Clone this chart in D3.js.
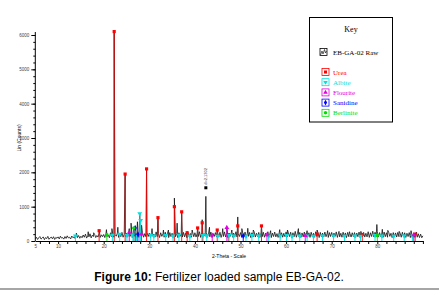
<!DOCTYPE html>
<html>
<head>
<meta charset="utf-8">
<script src="https://cdn.jsdelivr.net/npm/d3@7"></script>
<style>
  body { margin: 0; background: #fff; }
  svg { display: block; }
</style>
</head>
<body>
<div id="chart"></div>
<script>
// raw pattern: background counts every 0.25 deg from 5 to 90
var rawStart = 5, rawStep = 0.25;
var rawCounts = [
  60, 110, 45, 95, 130, 55, 85, 120, 40, 100, 70, 135, 50, 90, 115, 65, 125, 45, 105, 80,
  120, 60, 140, 85, 100, 55, 130, 75, 150, 90, 110, 60, 145, 95, 120, 70, 190, 100, 160, 80,
  140, 95, 175, 110, 200, 85, 150, 120, 210, 90, 170, 130, 195, 100, 160, 115, 230, 105, 180, 125,
  190, 100, 220, 130, 170, 95, 240, 120, 200, 110, 185, 140, 230, 105, 210, 125, 250, 110, 195, 135,
  220, 115, 255, 130, 200, 100, 245, 140, 210, 120, 260, 105, 225, 135, 240, 110, 215, 125, 250, 130,
  230, 105, 250, 140, 205, 115, 265, 125, 220, 100, 240, 135, 210, 110, 255, 120, 230, 100, 245, 130,
  225, 110, 260, 125, 215, 100, 240, 135, 205, 115, 250, 120, 230, 95, 245, 130, 220, 110, 260, 125,
  240, 115, 225, 130, 270, 105, 235, 120, 215, 140, 250, 110, 230, 125, 260, 100, 220, 135, 245, 115,
  235, 120, 255, 105, 220, 130, 265, 115, 240, 100, 225, 135, 250, 110, 230, 125, 270, 115, 215, 130,
  245, 105, 230, 125, 260, 110, 220, 135, 250, 100, 240, 120, 265, 115, 225, 130, 250, 105, 235, 125,
  255, 110, 225, 140, 270, 115, 240, 100, 230, 130, 260, 120, 215, 105, 250, 135, 240, 110, 225, 125,
  265, 115, 235, 130, 255, 100, 240, 125, 280, 110, 225, 135, 250, 105, 235, 120, 260, 115, 230, 130,
  240, 105, 255, 125, 225, 110, 270, 130, 235, 100, 250, 120, 230, 115, 260, 125, 220, 105, 245, 130,
  250, 115, 230, 135, 265, 105, 240, 120, 225, 110, 255, 130, 235, 100, 250, 125, 220, 115, 240, 130,
  245, 110, 230, 125, 260, 100, 235, 135, 250, 115, 225, 120, 270, 105, 240, 130, 285, 120, 255, 140,
  270, 115, 245, 130, 230, 105, 260, 125, 240, 110, 255, 135, 225, 100, 245, 120, 235, 115, 250, 125,
  230, 110, 255, 120, 240, 105, 225, 130, 245, 100, 230, 115, 220, 105, 240, 110, 210, 100, 200, 95,
  150
];

// raw pattern peaks (2-theta, counts)
var peakTheta  = [14.0, 16.6, 17.8, 19.0, 20.6, 21.8, 22.3, 23.1, 24.7, 25.6, 26.0, 26.6, 27.4, 27.9, 28.3, 29.4, 30.6, 31.9, 33.1, 34.2, 35.5, 36.1, 37.1, 38.3, 39.4, 40.6, 41.6, 42.4, 43.2, 44.9, 46.1, 47.0, 48.1, 49.4, 50.3, 51.6, 52.8, 54.6, 56.6, 58.6, 60.3, 62.7, 64.6, 66.8, 69.1, 71.6, 73.9, 76.4, 79.9, 81.1, 82.3, 84.8, 87.4, 88.6];
var peakCounts = [230, 270, 240, 310, 330, 360, 6100, 400, 1950, 360, 520, 400, 560, 800, 460, 2100, 360, 700, 320, 320, 1250, 520, 850, 280, 320, 400, 620, 1300, 400, 340, 360, 400, 320, 700, 360, 370, 320, 450, 300, 330, 320, 360, 300, 320, 300, 280, 270, 280, 480, 340, 310, 280, 300, 260];

// reference phases (stick positions and heights)
var ureaTheta  = [19.0, 22.3, 24.7, 29.4, 31.9, 35.5, 37.1, 38.3, 40.6, 41.6, 44.9, 47.3, 49.4, 54.6, 66.8, 76.7, 88.3];
var ureaCounts = [300, 6100, 1950, 2100, 680, 1000, 850, 240, 380, 530, 320, 180, 440, 440, 200, 190, 200];
var albiteTheta  = [13.8, 21.9, 23.5, 25.1, 26.4, 27.2, 27.9, 28.1, 30.3, 31.0, 33.6, 35.2, 36.5, 38.9, 41.8, 42.6, 45.0, 47.5, 48.5, 51.2, 52.5, 54.0, 56.2, 58.7, 60.1, 61.3, 63.0, 64.6, 66.0, 68.0, 70.4, 72.8, 75.1, 76.3, 79.5, 81.0, 83.6, 85.9, 87.7];
var albiteCounts = [150, 170, 200, 160, 180, 150, 800, 600, 170, 150, 160, 150, 170, 140, 160, 150, 140, 160, 150, 140, 160, 150, 140, 150, 160, 140, 150, 150, 140, 150, 150, 140, 150, 140, 160, 150, 140, 150, 140];
var flouriteTheta  = [25.6, 28.3, 43.8, 47.0, 55.8, 64.2, 88.0];
var flouriteCounts = [250, 200, 170, 390, 180, 160, 180];
var sanidineTheta  = [26.9, 27.5, 50.6];
var sanidineCounts = [380, 200, 150];
var berliniteTheta  = [20.7, 26.6, 80.0];
var berliniteCounts = [180, 380, 160];

var xTicks = [5, 10, 20, 30, 40, 50, 60, 70, 80];
var yTicks = [0, 1000, 2000, 3000, 4000, 5000, 6000];

var phases = [
  { name: "Urea",      color: "#ff0000", symbol: d3.symbolSquare,   theta: ureaTheta,      counts: ureaCounts },
  { name: "Albite",    color: "#00e0e0", symbol: d3.symbolTriangle, theta: albiteTheta,    counts: albiteCounts, flip: true },
  { name: "Flourite",  color: "#e000e0", symbol: d3.symbolTriangle, theta: flouriteTheta,  counts: flouriteCounts },
  { name: "Sanidine",  color: "#0000ff", symbol: d3.symbolDiamond,  theta: sanidineTheta,  counts: sanidineCounts },
  { name: "Berlinite", color: "#00dd00", symbol: d3.symbolCircle,   theta: berliniteTheta, counts: berliniteCounts }
];

function init() {
  var w = 439, h = 292;

  var svg = d3.select("#chart").append("svg")
      .attr("width", w)
      .attr("height", h)
      .style("font-family", "'Liberation Sans', Arial, sans-serif");

  var x = d3.scaleLinear().domain([5, 90]).range([35.3, 422.9]);
  var y = d3.scaleLinear().domain([0, 6000]).range([241, 35]);

  // raw line: background points merged with peak points
  var pts = rawCounts.map(function(c, i) { return [rawStart + i * rawStep, c]; });
  peakTheta.forEach(function(t, i) { pts.push([t, peakCounts[i]]); });
  pts.sort(function(a, b) { return a[0] - b[0]; });

  var line = d3.line()
      .x(function(d) { return x(d[0]); })
      .y(function(d) { return y(d[1]); });

  // axes
  var xAxis = d3.axisBottom(x).tickValues(xTicks).tickSize(0).tickFormat(d3.format("d"));
  var gx = svg.append("g")
      .attr("transform", "translate(0," + y(0) + ")")
      .call(xAxis);
  gx.select(".domain").attr("stroke", "#000").attr("stroke-width", 1);
  gx.selectAll("text").attr("font-size", 4.5).attr("fill", "#444").attr("dy", "0.9em").attr("y", 3);

  var xMinor = d3.axisBottom(x).tickValues(d3.range(6, 91, 2)).tickSize(3).tickFormat("");
  svg.append("g")
      .attr("transform", "translate(0," + y(0) + ")")
      .call(xMinor)
      .call(function(g) { g.select(".domain").remove(); });

  var yAxis = d3.axisLeft(y).tickValues(yTicks).tickSize(4).tickPadding(2).tickFormat(d3.format("d"));
  var gy = svg.append("g")
      .attr("transform", "translate(" + x(5) + ",0)")
      .call(yAxis);
  gy.select(".domain").attr("d", "M0," + y(0) + "V" + (y(6000) - 3));
  gy.selectAll("text").attr("font-size", 4.5).attr("fill", "#444");

  var yMinor = d3.axisLeft(y).tickValues(d3.range(0, 6001, 200)).tickSize(2).tickFormat("");
  svg.append("g")
      .attr("transform", "translate(" + x(5) + ",0)")
      .call(yMinor)
      .call(function(g) { g.select(".domain").remove(); });

  // raw pattern
  svg.append("path")
      .datum(pts)
      .attr("fill", "none")
      .attr("stroke", "#111")
      .attr("stroke-width", 0.8)
      .attr("d", line);

  // phase sticks and markers
  phases.forEach(function(p) {
    var g = svg.append("g");
    var data = p.theta.map(function(t, i) { return [t, p.counts[i]]; });
    g.selectAll("line")
      .data(data)
      .enter()
      .append("line")
      .attr("x1", function(d) { return x(d[0]); })
      .attr("x2", function(d) { return x(d[0]); })
      .attr("y1", y(0))
      .attr("y2", function(d) { return y(d[1]); })
      .attr("stroke", p.color)
      .attr("stroke-width", 0.9);
    g.selectAll("path")
      .data(data)
      .enter()
      .append("path")
      .attr("d", d3.symbol().type(p.symbol).size(10))
      .attr("transform", function(d) {
        return "translate(" + x(d[0]) + "," + y(d[1]) + ")" + (p.flip ? " rotate(180)" : "");
      })
      .attr("fill", p.color);
  });

  // labelled peak
  var lx = x(42.4), ly = y(1550);
  svg.append("rect")
      .attr("x", lx - 1.5).attr("y", ly - 1.5)
      .attr("width", 3).attr("height", 3)
      .attr("fill", "#000");
  svg.append("text")
      .attr("transform", "translate(" + (lx + 1) + "," + (ly - 3) + ") rotate(-90)")
      .attr("font-size", 4)
      .attr("fill", "#335")
      .text("d=2.1302");

  // axis titles
  svg.append("text")
      .attr("x", 229).attr("y", 258)
      .attr("text-anchor", "middle")
      .attr("font-size", 5)
      .text("2-Theta - Scale");
  svg.append("text")
      .attr("transform", "translate(21,138) rotate(-90)")
      .attr("text-anchor", "middle")
      .attr("font-size", 5)
      .text("Lin (Counts)");

  // legend
  var key = svg.append("g").style("font-family", "'Liberation Serif', 'Times New Roman', serif");
  key.append("rect")
      .attr("x", 309.5).attr("y", 17.5)
      .attr("width", 83).attr("height", 104.5)
      .attr("fill", "#fff")
      .attr("stroke", "#000")
      .attr("stroke-width", 1);
  key.append("text")
      .attr("x", 351).attr("y", 32)
      .attr("text-anchor", "middle")
      .attr("font-size", 8)
      .text("Key");
  key.append("rect")
      .attr("x", 320).attr("y", 48.5)
      .attr("width", 7).attr("height", 7)
      .attr("fill", "none").attr("stroke", "#000").attr("stroke-width", 0.8);
  key.append("path")
      .attr("d", "M320.5,55 L322,51 L323,54 L324.5,49.5 L325.5,53 L326.5,51")
      .attr("fill", "none").attr("stroke", "#000").attr("stroke-width", 0.6);
  key.append("text")
      .attr("x", 333).attr("y", 55)
      .attr("font-size", 7)
      .text("EB-GA-02 Raw");

  var items = key.selectAll("g.item")
      .data(phases)
      .enter()
      .append("g")
      .attr("class", "item")
      .attr("transform", function(d, i) { return "translate(0," + (72 + i * 10.2) + ")"; });
  items.append("rect")
      .attr("x", 322).attr("y", -3.5)
      .attr("width", 7).attr("height", 7)
      .attr("fill", "#fff")
      .attr("stroke", function(d) { return d.color; })
      .attr("stroke-width", 0.8);
  items.append("path")
      .attr("d", function(d) { return d3.symbol().type(d.symbol).size(9)(); })
      .attr("transform", function(d) { return "translate(325.5,0)" + (d.flip ? " rotate(180)" : ""); })
      .attr("fill", function(d) { return d.color; });
  items.append("text")
      .attr("x", 333).attr("y", 2.5)
      .attr("font-size", 7)
      .attr("fill", function(d) { return d.color; })
      .text(function(d) { return d.name; });

  // caption
  var cap = svg.append("text")
      .attr("x", 219).attr("y", 281)
      .attr("text-anchor", "middle")
      .attr("font-size", 12);
  cap.append("tspan").attr("font-weight", "bold").text("Figure 10:");
  cap.append("tspan").text(" Fertilizer loaded sample EB-GA-02.");

  svg.append("line")
      .attr("x1", 0).attr("x2", w)
      .attr("y1", 289).attr("y2", 289)
      .attr("stroke", "#888")
      .attr("stroke-width", 1.5);
}

window.onload = init;
</script>
</body>
</html>
